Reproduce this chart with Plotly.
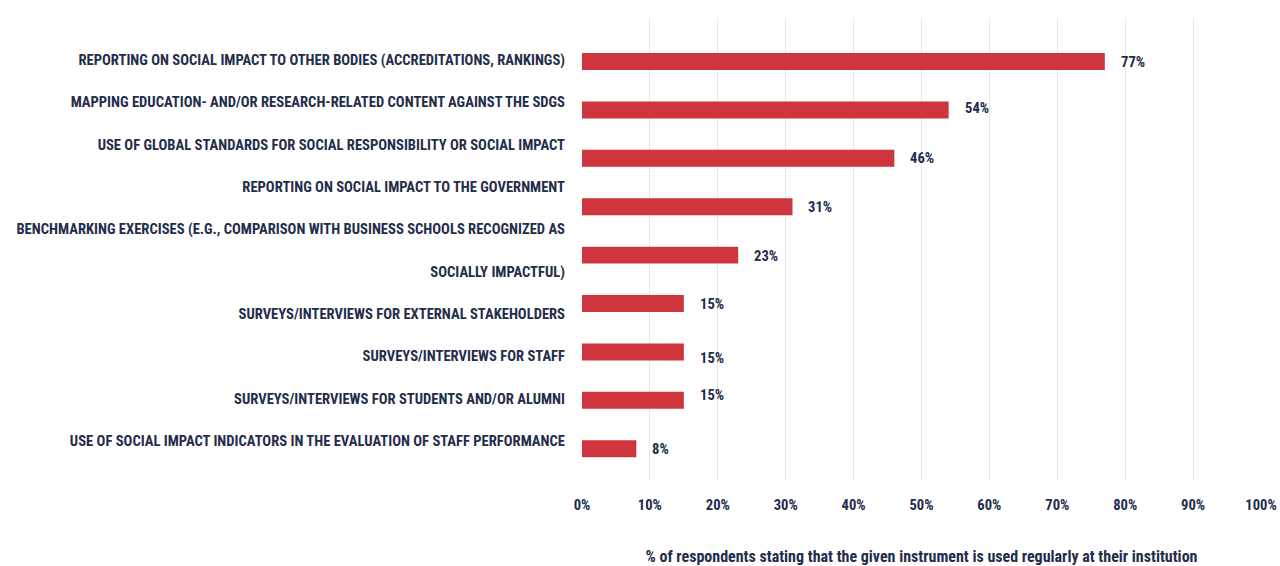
import plotly.graph_objects as go

# Instruments (one bar each), top to bottom
instruments = [
    "REPORTING ON SOCIAL IMPACT TO OTHER BODIES (ACCREDITATIONS, RANKINGS)",
    "MAPPING EDUCATION- AND/OR RESEARCH-RELATED CONTENT AGAINST THE SDGS",
    "USE OF GLOBAL STANDARDS FOR SOCIAL RESPONSIBILITY OR SOCIAL IMPACT",
    "REPORTING ON SOCIAL IMPACT TO THE GOVERNMENT",
    "BENCHMARKING EXERCISES (E.G., COMPARISON WITH BUSINESS SCHOOLS RECOGNIZED AS SOCIALLY IMPACTFUL)",
    "SURVEYS/INTERVIEWS FOR EXTERNAL STAKEHOLDERS",
    "SURVEYS/INTERVIEWS FOR STAFF",
    "SURVEYS/INTERVIEWS FOR STUDENTS AND/OR ALUMNI",
    "USE OF SOCIAL IMPACT INDICATORS IN THE EVALUATION OF STAFF PERFORMANCE",
]
share_pct = [77, 54, 46, 31, 23, 15, 15, 15, 8]

# Label column text, one entry per printed line
label_lines = [
    "REPORTING ON SOCIAL IMPACT TO OTHER BODIES (ACCREDITATIONS, RANKINGS)",
    "MAPPING EDUCATION- AND/OR RESEARCH-RELATED CONTENT AGAINST THE SDGS",
    "USE OF GLOBAL STANDARDS FOR SOCIAL RESPONSIBILITY OR SOCIAL IMPACT",
    "REPORTING ON SOCIAL IMPACT TO THE GOVERNMENT",
    "BENCHMARKING EXERCISES (E.G., COMPARISON WITH BUSINESS SCHOOLS RECOGNIZED AS",
    "SOCIALLY IMPACTFUL)",
    "SURVEYS/INTERVIEWS FOR EXTERNAL STAKEHOLDERS",
    "SURVEYS/INTERVIEWS FOR STAFF",
    "SURVEYS/INTERVIEWS FOR STUDENTS AND/OR ALUMNI",
    "USE OF SOCIAL IMPACT INDICATORS IN THE EVALUATION OF STAFF PERFORMANCE",
]

x_ticks = [0, 10, 20, 30, 40, 50, 60, 70, 80, 90, 100]
x_title = "% of respondents stating that the given instrument is used regularly at their institution"

FONT = "Roboto Condensed, 'Arial Narrow', sans-serif"
FS = 14.6
INK = "#232d4b"
RED = "#cf353d"
GRID = "#e8e8e8"

n = len(instruments)
fig = go.Figure()

fig.add_trace(go.Bar(
    x=share_pct,
    y=list(range(n)),
    orientation="h",
    marker=dict(color=RED, line=dict(width=0)),
    width=0.35,
    hoverinfo="skip",
))

# invisible carrier for the label column axis
fig.add_trace(go.Scatter(
    x=[0] * len(label_lines),
    y=list(range(len(label_lines))),
    yaxis="y2",
    mode="markers",
    marker=dict(opacity=0),
    hoverinfo="skip",
    showlegend=False,
))

# value labels next to each bar
label_nudge = [0, 2, 0, 0, -1, 0, -6, 5, 0]
for i, v in enumerate(share_pct):
    fig.add_annotation(
        x=v, y=i, xref="x", yref="y",
        text=f"<b>{v}%</b>",
        showarrow=False, xanchor="left", yanchor="middle",
        xshift=14, yshift=label_nudge[i],
        font=dict(family=FONT, size=FS, color=INK),
    )

fig.update_layout(
    width=1280, height=566,
    margin=dict(l=582, r=19, t=18, b=86),
    paper_bgcolor="white",
    plot_bgcolor="white",
    showlegend=False,
    font=dict(family=FONT, size=FS, color=INK),
    xaxis=dict(
        range=[0, 100],
        tickvals=x_ticks,
        ticktext=[f"<b>{t}%</b>" for t in x_ticks],
        showgrid=True, gridcolor=GRID, gridwidth=1,
        zeroline=False, showline=False,
        ticks="", ticklabelstandoff=14,
        tickfont=dict(family=FONT, size=FS, color=INK),
        title=dict(text=f"<b>{x_title}</b>", standoff=46,
                   font=dict(family=FONT, size=16, color=INK)),
        automargin=False,
        fixedrange=True,
    ),
    yaxis=dict(
        range=[8.646, -0.899],
        showticklabels=False, showgrid=False, zeroline=False,
        showline=False, ticks="", fixedrange=True, automargin=False,
    ),
    yaxis2=dict(
        overlaying="y", side="left",
        range=[9.922, -0.992],
        tickmode="array",
        tickvals=list(range(len(label_lines))),
        ticktext=[f"<b>{s}</b>" for s in label_lines],
        tickfont=dict(family=FONT, size=FS, color=INK),
        showgrid=False, zeroline=False, showline=False,
        ticks="", ticklabelstandoff=16, fixedrange=True, automargin=False,
    ),
)

fig.write_html("out.html", include_plotlyjs=True, config={"displayModeBar": False})
